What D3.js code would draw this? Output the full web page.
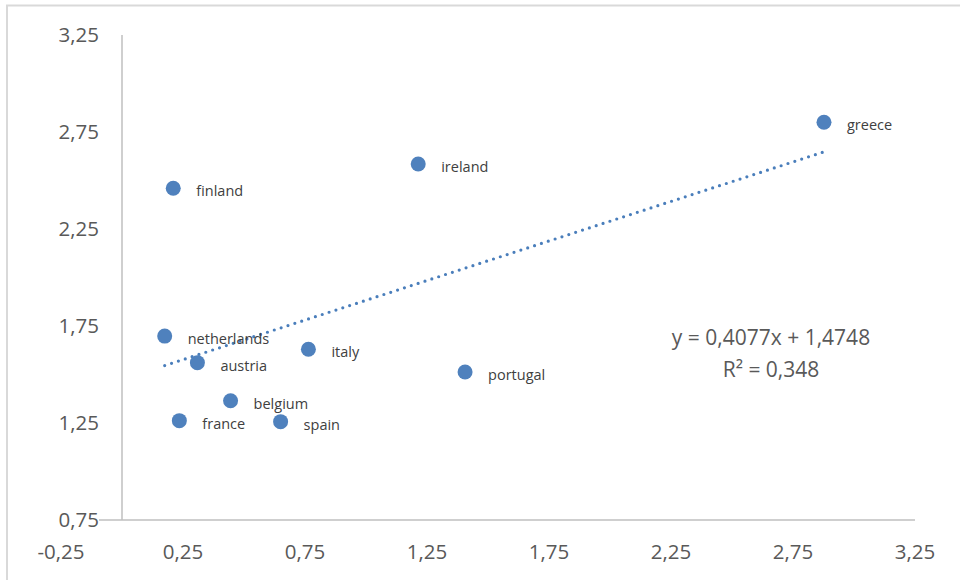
<!DOCTYPE html>
<html>
<head>
<meta charset="utf-8">
<script src="https://cdn.jsdelivr.net/npm/d3@7"></script>
<style>
  html, body { margin: 0; padding: 0; background: #fff; }
  svg { display: block; font-family: "Open Sans", "Noto Sans", sans-serif; }
</style>
</head>
<body>
<svg id="chart" width="960" height="580"></svg>
<script>
// Country scatter with a linear trend line
const countries = ["netherlands", "austria", "italy", "belgium", "france", "spain", "greece", "finland", "ireland", "portugal"];
const xValues   = [0.175, 0.309, 0.764, 0.445, 0.235, 0.650, 2.877, 0.210, 1.214, 1.406];
const yValues   = [1.698, 1.561, 1.630, 1.365, 1.262, 1.257, 2.800, 2.460, 2.585, 1.513];

const xTicks = [-0.25, 0.25, 0.75, 1.25, 1.75, 2.25, 2.75, 3.25];
const yTicks = [0.75, 1.25, 1.75, 2.25, 2.75, 3.25];

// Trend line coefficients, as printed on the chart
const trendSlope = 0.4077;
const trendIntercept = 1.4748;
const trendR2 = 0.348;

// Decimal comma, plain hyphen for negatives
const fmt = v => d3.format(".2f")(v).replace("\u2212", "-").replace(".", ",");
const fmtN = v => String(v).replace(".", ",");

const svg = d3.select("#chart");
const W = 960, H = 580;

// Chart frame (the outer border runs off the right and bottom edges)
svg.append("rect")
  .attr("x", 7).attr("y", 5.5)
  .attr("width", W + 20).attr("height", H + 20)
  .attr("fill", "#fff")
  .attr("stroke", "#d9d9d9").attr("stroke-width", 2);

const x = d3.scaleLinear().domain([-0.25, 3.25]).range([61, 915]);
const y = d3.scaleLinear().domain([0.75, 3.25]).range([520, 35]);

const axisColor = "#bfbfbf";
const textColor = "#595959";
const tickSize = 20.5;

// Y tick labels, to the left of the vertical axis (which crosses at x = 0)
svg.append("g").selectAll("text").data(yTicks).join("text")
  .attr("x", 99)
  .attr("y", d => y(d))
  .attr("dy", "0.35em")
  .attr("text-anchor", "end")
  .attr("font-size", tickSize)
  .attr("fill", textColor)
  .text(fmt);

// Horizontal axis line: starts where the y labels end
svg.append("line")
  .attr("x1", 99).attr("x2", x(3.25))
  .attr("y1", y(0.75)).attr("y2", y(0.75))
  .attr("stroke", axisColor).attr("stroke-width", 1.5);

// Vertical axis line at x = 0
svg.append("line")
  .attr("x1", x(0)).attr("x2", x(0))
  .attr("y1", y(3.25)).attr("y2", y(0.75))
  .attr("stroke", axisColor).attr("stroke-width", 1.5);

// X tick labels
svg.append("g").selectAll("text").data(xTicks).join("text")
  .attr("x", d => x(d))
  .attr("y", 552)
  .attr("dy", "0.35em")
  .attr("text-anchor", "middle")
  .attr("font-size", tickSize)
  .attr("fill", textColor)
  .text(fmt);

const points = countries.map((c, i) => ({ name: c, x: xValues[i], y: yValues[i] }));

// Trend line across the data's x range
const xMin = d3.min(xValues), xMax = d3.max(xValues);
svg.append("line")
  .attr("x1", x(xMin)).attr("y1", y(trendSlope * xMin + trendIntercept))
  .attr("x2", x(xMax)).attr("y2", y(trendSlope * xMax + trendIntercept))
  .attr("stroke", "#4a7ebb")
  .attr("stroke-width", 3.2)
  .attr("stroke-linecap", "round")
  .attr("stroke-dasharray", "0 7.2");

// Markers
svg.append("g").selectAll("circle").data(points).join("circle")
  .attr("cx", d => x(d.x))
  .attr("cy", d => y(d.y))
  .attr("r", 7.5)
  .attr("fill", "#4f81bd");

// Point labels
svg.append("g").selectAll("text").data(points).join("text")
  .attr("x", d => x(d.x) + 23)
  .attr("y", d => y(d.y) + 3)
  .attr("dy", "0.35em")
  .attr("font-size", 14.5)
  .attr("fill", "#404040")
  .text(d => d.name);

// Regression equation
const eq = svg.append("text")
  .attr("text-anchor", "middle")
  .attr("font-size", 21)
  .attr("fill", textColor);
eq.append("tspan").attr("x", 771).attr("y", 345)
  .text(`y = ${fmtN(trendSlope)}x + ${fmtN(trendIntercept)}`);
eq.append("tspan").attr("x", 771).attr("y", 377)
  .text(`R² = ${fmtN(trendR2)}`);
</script>
</body>
</html>
